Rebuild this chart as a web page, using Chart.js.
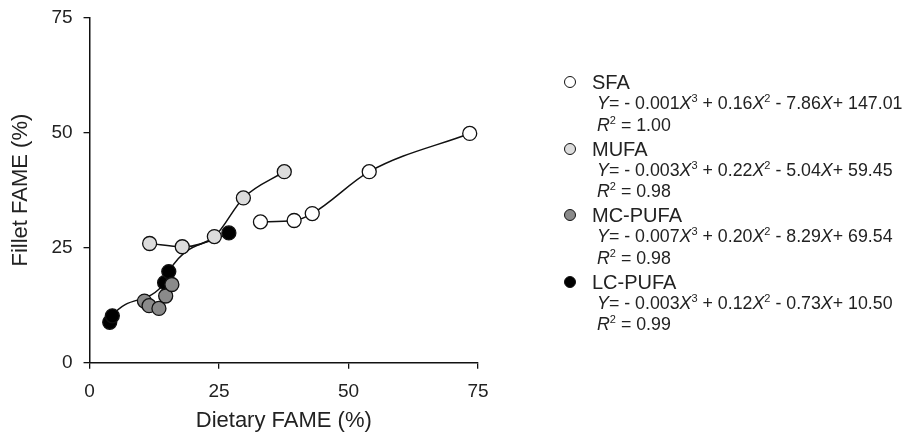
<!DOCTYPE html>
<html>
<head>
<meta charset="utf-8">
<script src="https://cdn.jsdelivr.net/npm/chart.js@4.4.1/dist/chart.umd.min.js"></script>
<style>
    html, body { margin: 0; padding: 0; background: #fff; overflow: hidden; }
    #wrap { position: relative; width: 909px; height: 444px; overflow: hidden; }
    #chart { position: absolute; left: 0; top: -5px; }
    #legend {
        position: absolute; left: 592px; top: 72px;
        font-family: "Liberation Sans", Arial, sans-serif; color: #222;
    }
    .item { position: relative; margin-bottom: 2.5px; }
    .name { font-size: 20px; line-height: 21px; }
    .eq { font-size: 17.8px; line-height: 21.5px; padding-left: 5px; white-space: nowrap; }
    .dot {
        position: absolute; left: -28px; top: 4px;
        width: 10px; height: 10px; border-radius: 50%;
        border: 1.4px solid #111;
    }
    i { font-style: italic; }
    sup { font-size: 11px; vertical-align: 7px; line-height: 0; }
</style>
</head>
<body>
<div id="wrap">
    <canvas id="chart" width="909" height="444"></canvas>
    <div id="legend"></div>
</div>
<script>
// series (dietary %, fillet %)
const sfaX = [33.0, 39.5, 43.0, 54.0, 73.4];
const sfaY = [30.6, 30.9, 32.4, 41.5, 49.8];

const mufaX = [11.6, 17.9, 24.1, 29.7, 37.6];
const mufaY = [25.9, 25.2, 27.4, 35.8, 41.5];

const mcX = [10.6, 11.5, 13.4, 14.7, 15.9];
const mcY = [13.4, 12.4, 11.8, 14.5, 17.0];

const lcX = [3.9, 4.4, 14.5, 15.3, 26.9];
const lcY = [8.8, 10.2, 17.4, 19.8, 28.2];

const seriesNames = ['SFA', 'MUFA', 'MC-PUFA', 'LC-PUFA'];
const fillColors = ['#ffffff', '#dcdcdc', '#8a8a8a', '#000000'];
const equations = [
    ['- 0.001', '0.16', '- 7.86', '147.01', '1.00'],
    ['- 0.003', '0.22', '- 5.04', '59.45', '0.98'],
    ['- 0.007', '0.20', '- 8.29', '69.54', '0.98'],
    ['- 0.003', '0.12', '- 0.73', '10.50', '0.99']
];

const tickValues = [0, 25, 50, 75];

function toPoints(xs, ys) {
    return xs.map((x, i) => ({ x: x, y: ys[i] }));
}

const allX = [sfaX, mufaX, mcX, lcX];
const allY = [sfaY, mufaY, mcY, lcY];

const datasets = seriesNames.map((name, i) => ({
    label: name,
    data: toPoints(allX[i], allY[i]),
    showLine: true,
    borderColor: '#111',
    borderWidth: 1.5,
    cubicInterpolationMode: 'monotone',
    pointRadius: 7,
    pointBackgroundColor: fillColors[i],
    pointBorderColor: '#111',
    pointBorderWidth: 1.3
}));

const axisFont = { family: '"Liberation Sans", Arial, sans-serif', size: 19 };
const titleFont = { family: '"Liberation Sans", Arial, sans-serif', size: 22 };

function axisOpts(title, tickPad, titlePad) {
    return {
        type: 'linear',
        min: 0,
        max: 75,
        afterBuildTicks: axis => { axis.ticks = tickValues.map(v => ({ value: v })); },
        ticks: { color: '#222', font: axisFont, padding: tickPad },
        grid: { display: true, drawOnChartArea: false, drawTicks: true, tickLength: 6, color: '#111', lineWidth: 1.3 },
        border: { display: true, color: '#111', width: 1.5 },
        title: { display: true, text: title, color: '#222', font: titleFont, padding: titlePad }
    };
}

new Chart(document.getElementById('chart'), {
    type: 'scatter',
    data: { datasets: datasets },
    options: {
        responsive: false,
        animation: false,
        layout: { padding: { left: 4, right: 431, top: 0, bottom: 5 } },
        plugins: { legend: { display: false }, tooltip: { enabled: false } },
        scales: {
            x: axisOpts('Dietary FAME (%)', 12, { top: -8, bottom: 0 }),
            y: axisOpts('Fillet FAME (%)', 11, { top: 4, bottom: 6 })
        }
    }
});

const legend = document.getElementById('legend');
seriesNames.forEach((name, i) => {
    const e = equations[i];
    const item = document.createElement('div');
    item.className = 'item';
    item.innerHTML =
        '<span class="dot" style="background:' + fillColors[i] + '"></span>' +
        '<div class="name">' + name + '</div>' +
        '<div class="eq"><i>Y</i>= ' + e[0] + '<i>X</i><sup>3</sup> + ' + e[1] + '<i>X</i><sup>2</sup> ' +
        e[2] + '<i>X</i>+ ' + e[3] + '</div>' +
        '<div class="eq"><i>R</i><sup>2</sup> = ' + e[4] + '</div>';
    legend.appendChild(item);
});
</script>
</body>
</html>
